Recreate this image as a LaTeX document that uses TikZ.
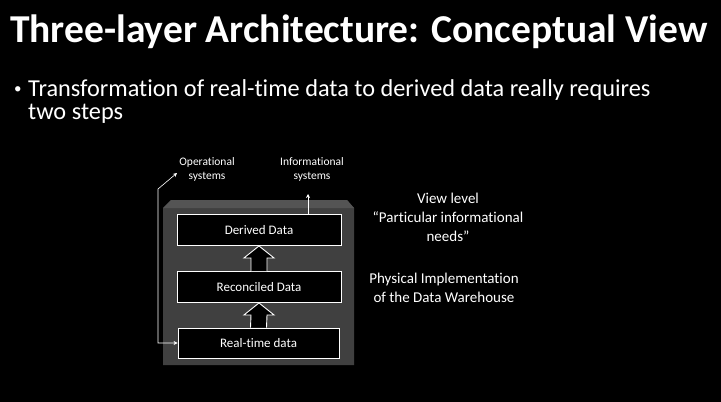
\documentclass[tikz,border=0pt]{standalone}
\usepackage{fontspec}
\setmainfont[Ligatures=NoCommon]{Carlito}
\usetikzlibrary{arrows.meta}

\begin{document}
\begin{tikzpicture}[x=1pt,y=-1pt,
  >={Stealth[length=4pt,width=4pt]},
  layer/.style={draw=white,line width=0.9pt,fill=black,text=white,minimum width=164pt,minimum height=31pt,inner sep=0pt,font=\fontsize{13}{15}\selectfont},
  side/.style={text=white,align=center,font=\fontsize{15}{19}\selectfont},
  small/.style={text=white,align=center,font=\fontsize{11.5}{14}\selectfont},
  bodytext/.style={text=white,anchor=base west,inner sep=0pt,font=\fontsize{24.3}{27}\selectfont},
  conn/.style={draw=white,line width=0.6pt},
  blockarr/.style={draw=white,line width=0.9pt,fill=black}]
  \useasboundingbox (0,0) rectangle (721,402);
  \fill[black] (0,0) rectangle (721,402);
  % title and bullet
  \node[text=white,anchor=base west,inner sep=0pt,font=\fontsize{39.5}{44}\bfseries\selectfont] (title) at (10,42) {Three-layer Architecture: Conceptual View};
  \node[text=white,anchor=base west,inner sep=0pt,font=\fontsize{15}{18}\selectfont] (bul) at (14,93) {\textbullet};
  \node[bodytext] (txt) at (28,96) {Transformation of real-time data to derived data really requires};
  \node[bodytext] (txt2) at (28,119) {two steps};
  % gray block
  \fill[fill=black!75] (163,208) -- (171,200) -- (347,200) -- (354,208) -- (354,365) -- (163,365) -- cycle;
  \fill[fill=black!67] (163,208) -- (171,200) -- (347,200) -- (354,208) -- cycle;
  % layers
  \node[layer] (der) at (259,230) {Derived Data};
  \node[layer] (rec) at (259,287) {Reconciled Data};
  \node[layer,minimum width=161pt,minimum height=30pt] (rt) at (258.5,343) {Real-time data};
  % block arrows
  \draw[blockarr] ([xshift=-8pt]rec.north) -- ([xshift=-8pt,yshift=-12pt]der.south) -- ([xshift=-15pt,yshift=-12pt]der.south) -- (der.south) -- ([xshift=15pt,yshift=-12pt]der.south) -- ([xshift=8pt,yshift=-12pt]der.south) -- ([xshift=8pt]rec.north);
  \draw[blockarr] ([xshift=-8pt]rt.north) -- ([xshift=-8pt,yshift=-12pt]rec.south) -- ([xshift=-15pt,yshift=-12pt]rec.south) -- (rec.south) -- ([xshift=15pt,yshift=-12pt]rec.south) -- ([xshift=8pt,yshift=-12pt]rec.south) -- ([xshift=8pt]rt.north);
  % labels
  \node[small] (ops) at (207,169) {Operational\\systems};
  \node[small] (info) at (312,169) {Informational\\systems};
  \node[side] (view) at (448,217) {View level\\``Particular informational\\needs''};
  \node[side] (phys) at (444,288) {Physical Implementation\\of the Data Warehouse};
  % connectors
  \coordinate (optip) at (177,173);
  \coordinate (opbend) at (158,189);
  \coordinate (infotip) at (308,194);
  \draw[conn,<->] (optip) -- (opbend) |- (rt.west);
  \draw[conn,->] (der.north -| infotip) -- (infotip);
\end{tikzpicture}
\end{document}
